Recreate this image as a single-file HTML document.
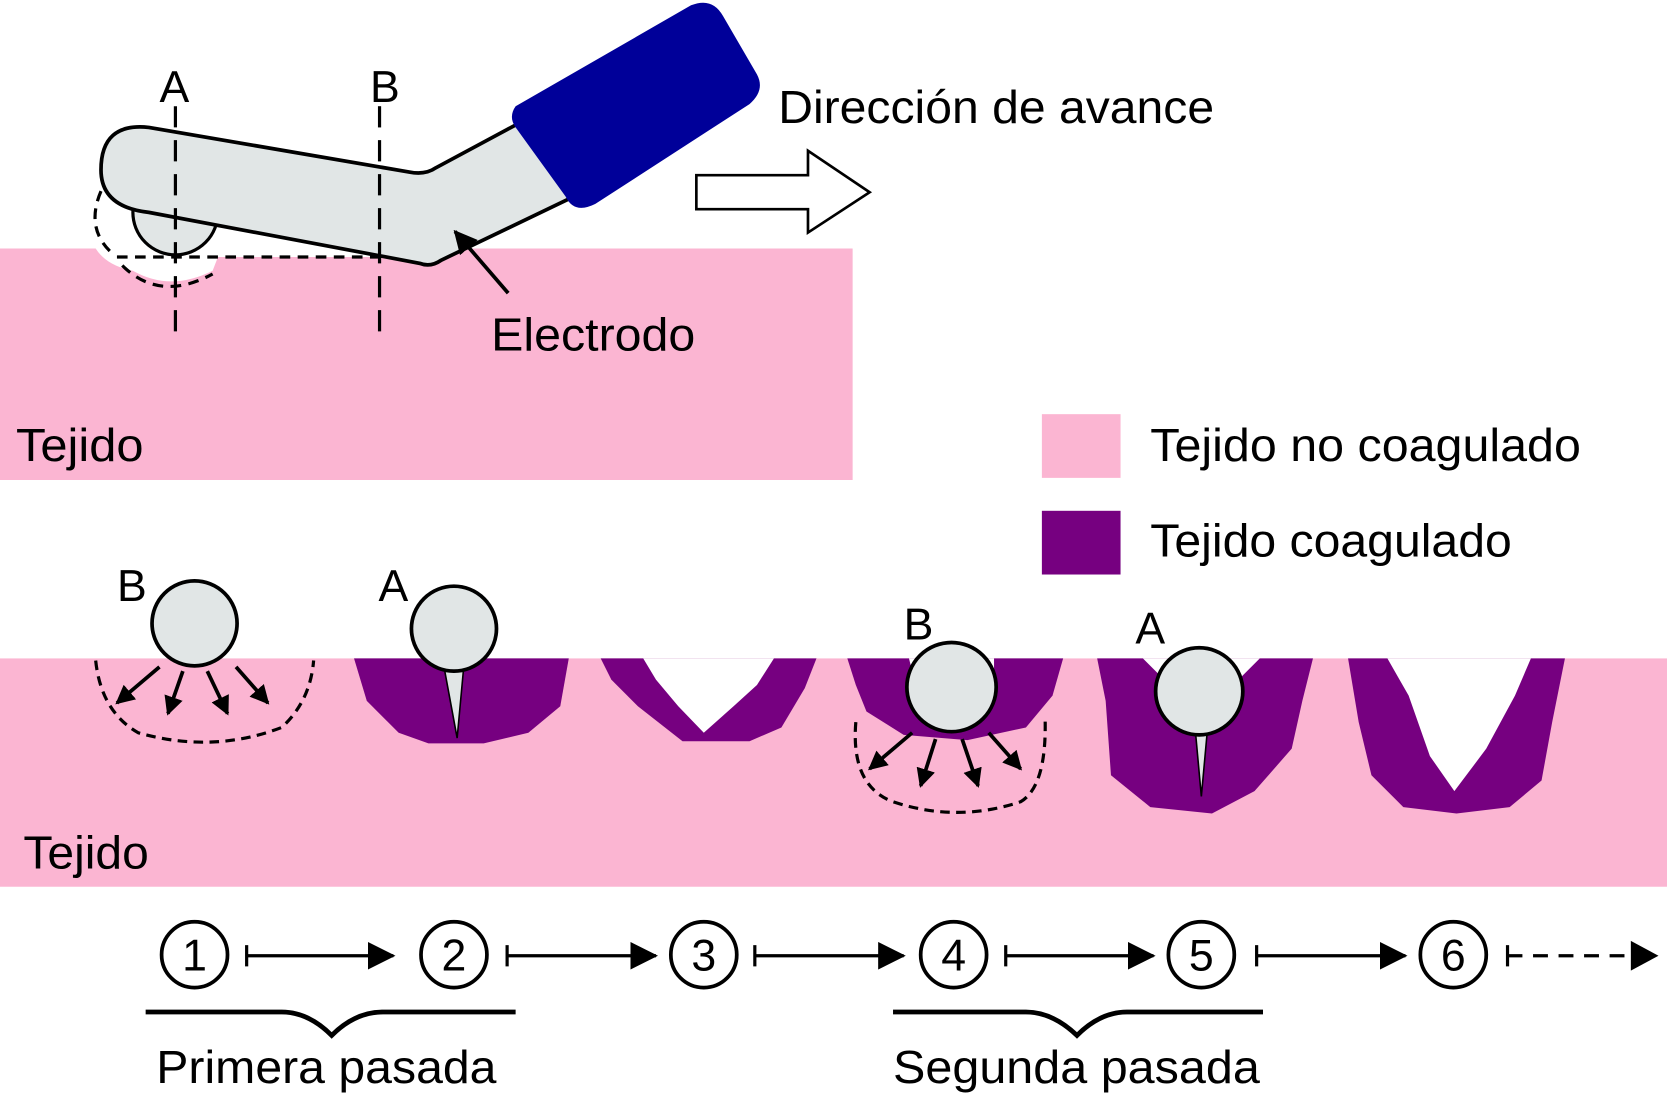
<!DOCTYPE html>
<html><head><meta charset="utf-8"><style>
html,body{margin:0;padding:0;background:#fff;}
svg{display:block;}
text{font-family:"Liberation Sans Narrow","Liberation Sans",sans-serif;fill:#000;}
</style></head><body>
<svg width="1667" height="1097" viewBox="0 0 1568 1033" preserveAspectRatio="none" xmlns="http://www.w3.org/2000/svg">
<defs>
<marker id="ah" markerWidth="18" markerHeight="18" refX="16" refY="9" orient="auto" markerUnits="userSpaceOnUse"><path d="M0,0 L18,9 L0,18 z" fill="#000"/></marker>
<marker id="big" markerWidth="26" markerHeight="26" refX="24" refY="13" orient="auto" markerUnits="userSpaceOnUse"><path d="M0,0 L26,13 L0,26 z" fill="#000"/></marker>
<marker id="sm" markerWidth="22" markerHeight="22" refX="20" refY="11" orient="auto" markerUnits="userSpaceOnUse"><path d="M0,0 L22,11 L0,22 z" fill="#000"/></marker>
</defs>
<!-- top tissue -->
<rect x="0" y="234" width="802" height="218" fill="#fbb5d2"/>
<path d="M90,234 Q100,250 125,255 Q160,275 200,255 L205,242 L360,242 L360,234 Z" fill="#fff"/>
<path d="M95,180 Q80,215 105,238 M110,242 L360,242 M115,250 Q150,285 200,258" fill="none" stroke="#000" stroke-width="3" stroke-dasharray="10,7"/>
<circle cx="165" cy="200" r="40" fill="#e1e6e6" stroke="#000" stroke-width="3"/>
<!-- electrode -->
<path d="M140,120 L385,162 Q400,165 410,158 L490,115 L540,185 L415,245 Q405,252 395,248 L140,200 Q95,195 95,160 Q95,115 140,120 Z" fill="#e1e6e6" stroke="#000" stroke-width="3.5"/>
<path d="M485,100 L650,5 Q670,-3 680,15 L712,70 Q720,85 705,98 L560,192 Q540,202 532,185 L485,120 Q478,110 485,100 Z" fill="#000099"/>
<line x1="165" y1="100" x2="165" y2="318" stroke="#000" stroke-width="3" stroke-dasharray="20,12"/>
<line x1="357" y1="100" x2="357" y2="320" stroke="#000" stroke-width="3" stroke-dasharray="20,12"/>
<text x="150" y="96" font-size="42">A</text>
<text x="348" y="96" font-size="42">B</text>
<line x1="478" y1="276" x2="428" y2="218" stroke="#000" stroke-width="3.5" marker-end="url(#sm)"/>
<text x="462" y="330" font-size="44" textLength="192" lengthAdjust="spacingAndGlyphs">Electrodo</text>
<text x="15" y="434" font-size="44" textLength="120" lengthAdjust="spacingAndGlyphs">Tejido</text>
<path d="M655,165 L760,165 L760,142 L818,181 L760,219 L760,197 L655,197 Z" fill="#fff" stroke="#000" stroke-width="2.5"/>
<text x="732" y="116" font-size="44" textLength="410" lengthAdjust="spacingAndGlyphs">Dirección de avance</text>
<!-- legend -->
<rect x="980" y="390" width="74" height="60" fill="#fbb5d2"/>
<rect x="980" y="481" width="74" height="60" fill="#760080"/>
<text x="1082" y="434" font-size="44" textLength="405" lengthAdjust="spacingAndGlyphs">Tejido no coagulado</text>
<text x="1082" y="524" font-size="44" textLength="340" lengthAdjust="spacingAndGlyphs">Tejido coagulado</text>
<!-- bottom tissue -->
<rect x="0" y="620" width="1568" height="215" fill="#fbb5d2"/>
<path d="M333,620 L535,620 L527,665 L497,690 L455,700 L403,700 L375,690 L345,660 Z" fill="#760080"/>
<path d="M418,630 L436,630 L430,695 Z" fill="#e1e6e6" stroke="#000" stroke-width="1.5"/>
<circle cx="427" cy="592" r="40" fill="#e1e6e6" stroke="#000" stroke-width="3.5"/>
<path d="M565,620 L768,620 L757,648 L735,685 L705,698 L642,698 L600,665 L575,640 Z" fill="#760080"/>
<path d="M605,620 L728,620 L712,645 L690,665 L662,690 L638,665 L617,640 Z" fill="#fff"/>
<path d="M797,620 L1000,620 L990,655 L965,685 L910,697 L850,692 L815,670 L805,645 Z" fill="#760080"/>
<path d="M855,620 L935,620 L935,640 L860,640 Z" fill="#fff"/>
<circle cx="895" cy="647" r="42" fill="#e1e6e6" stroke="#000" stroke-width="3.5"/>
<path d="M1032,620 L1235,620 L1225,660 L1215,705 L1180,745 L1140,766 L1082,760 L1045,730 L1040,660 Z" fill="#760080"/>
<path d="M1120,640 L1140,640 L1130,750 Z" fill="#e1e6e6" stroke="#000" stroke-width="1.5"/>
<path d="M1075,620 L1185,620 L1165,640 L1095,640 Z" fill="#fff"/>
<circle cx="1128" cy="651" r="41" fill="#e1e6e6" stroke="#000" stroke-width="3.5"/>
<path d="M1268,620 L1472,620 L1460,680 L1450,735 L1420,760 L1370,766 L1320,760 L1290,730 L1278,680 Z" fill="#760080"/>
<path d="M1305,620 L1440,620 L1425,655 L1398,705 L1368,745 L1345,712 L1325,655 Z" fill="#fff"/>
<path d="M90,622 Q95,670 130,690 Q200,710 265,685 Q292,660 295,622" fill="none" stroke="#000" stroke-width="3" stroke-dasharray="9,6"/>
<path d="M805,680 Q800,740 840,755 Q900,775 960,755 Q985,740 983,675" fill="none" stroke="#000" stroke-width="3" stroke-dasharray="9,6"/>
<g stroke="#000" stroke-width="3.5">
<line x1="150" y1="628" x2="110" y2="662" marker-end="url(#ah)"/>
<line x1="172" y1="632" x2="158" y2="672" marker-end="url(#ah)"/>
<line x1="195" y1="632" x2="214" y2="672" marker-end="url(#ah)"/>
<line x1="222" y1="628" x2="252" y2="662" marker-end="url(#ah)"/>
<line x1="858" y1="690" x2="818" y2="724" marker-end="url(#ah)"/>
<line x1="880" y1="696" x2="866" y2="740" marker-end="url(#ah)"/>
<line x1="905" y1="696" x2="920" y2="740" marker-end="url(#ah)"/>
<line x1="930" y1="690" x2="960" y2="724" marker-end="url(#ah)"/>
</g>
<circle cx="183" cy="587" r="40" fill="#e1e6e6" stroke="#000" stroke-width="3.5"/>
<text x="110" y="566" font-size="42">B</text>
<text x="356" y="566" font-size="42">A</text>
<text x="850" y="602" font-size="42">B</text>
<text x="1068" y="606" font-size="42">A</text>
<text x="22" y="818" font-size="44" textLength="118" lengthAdjust="spacingAndGlyphs">Tejido</text>
<g fill="#fff" stroke="#000" stroke-width="3.5">
<circle cx="183" cy="899" r="31"/><circle cx="427" cy="899" r="31"/><circle cx="662" cy="899" r="31"/>
<circle cx="897" cy="899" r="31"/><circle cx="1130" cy="899" r="31"/><circle cx="1367" cy="899" r="31"/>
</g>
<g font-size="42" text-anchor="middle">
<text x="183" y="914">1</text><text x="427" y="914">2</text><text x="662" y="914">3</text>
<text x="897" y="914">4</text><text x="1130" y="914">5</text><text x="1367" y="914">6</text>
</g>
<g stroke="#000" stroke-width="3">
<line x1="232" y1="900" x2="370" y2="900" marker-end="url(#big)"/><line x1="232" y1="890" x2="232" y2="910"/>
<line x1="477" y1="900" x2="617" y2="900" marker-end="url(#big)"/><line x1="477" y1="890" x2="477" y2="910"/>
<line x1="710" y1="900" x2="850" y2="900" marker-end="url(#big)"/><line x1="710" y1="890" x2="710" y2="910"/>
<line x1="946" y1="900" x2="1085" y2="900" marker-end="url(#big)"/><line x1="946" y1="890" x2="946" y2="910"/>
<line x1="1182" y1="900" x2="1322" y2="900" marker-end="url(#big)"/><line x1="1182" y1="890" x2="1182" y2="910"/>
<line x1="1418" y1="900" x2="1530" y2="900" stroke-dasharray="14,10"/><line x1="1418" y1="890" x2="1418" y2="910"/>
</g>
<path d="M1534,886 L1560,900 L1534,914 Z" fill="#000"/>
<path d="M137,953 L265,953 Q290,953 312,975 Q334,953 360,953 L485,953" fill="none" stroke="#000" stroke-width="4.5"/>
<path d="M840,953 L965,953 Q990,953 1013,975 Q1035,953 1060,953 L1188,953" fill="none" stroke="#000" stroke-width="4.5"/>
<text x="147" y="1020" font-size="44" textLength="320" lengthAdjust="spacingAndGlyphs">Primera pasada</text>
<text x="840" y="1020" font-size="44" textLength="345" lengthAdjust="spacingAndGlyphs">Segunda pasada</text>
</svg>
</body></html>
